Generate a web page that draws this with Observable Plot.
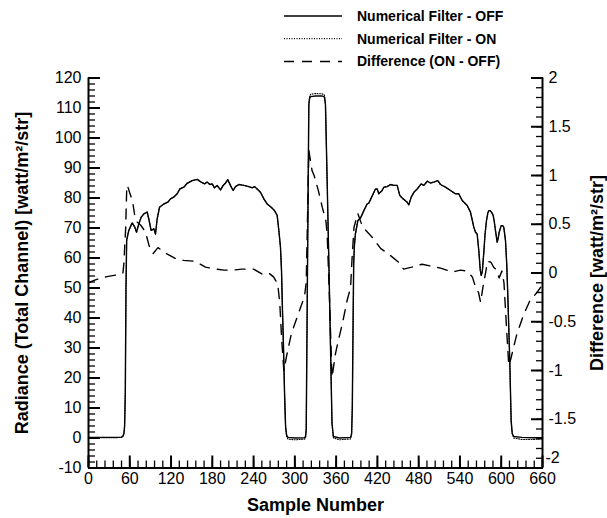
<!DOCTYPE html>
<html>
<head>
<meta charset="utf-8">
<script src="https://cdn.jsdelivr.net/npm/d3@7"></script>
<script src="https://cdn.jsdelivr.net/npm/@observablehq/plot@0.6"></script>
<style>
  body { margin: 0; background: #fff; font-family: "Liberation Sans", Arial, Helvetica, sans-serif; }
  #wrap { width: 607px; }
  #legend { display: block; }
</style>
</head>
<body>
<div id="wrap"><div id="legend"></div><div id="chart"></div></div>
<script>
// ---------- data ----------
const sample = [
  0, 20, 40, 48, 50, 51.5, 52.5, 53.5, 54.5, 55.5,
  58.6, 63.5, 67.3, 69.8, 73.2, 76.6, 80.4, 85.3, 87.7, 91,
  95, 97.4, 99.8, 103.2, 109.5, 115.3, 119.2, 124, 128.9, 132.7,
  138.5, 143.4, 150.7, 158, 163.8, 168.6, 172.5, 176.3, 179.8, 183.2,
  187, 191.9, 195.8, 199.2, 202.5, 206.4, 210.3, 213.7, 218.5, 225.8,
  233, 238, 241.3, 245.2, 250, 254.9, 259.8, 265.6, 270.4, 274.3,
  276.7, 279.1, 280.6, 282, 283.5, 285, 286.5, 288, 290, 300,
  314, 315.5, 316.5, 318.5, 320.3, 321.5, 323, 330, 340, 343,
  344.5, 347, 350, 352, 354, 356, 365, 381, 382.5, 383.5,
  384.5, 385.5, 386.5, 388, 391.6, 395.4, 400.3, 405, 407.5, 412,
  417.2, 419.7, 422, 426.9, 429.3, 434.2, 439, 443.8, 448.7, 452.6,
  457.5, 463.3, 465.7, 469.1, 473, 477.8, 483.6, 487.5, 492.4, 497.2,
  502, 507.8, 511.7, 519, 526.2, 533.5, 538.3, 543.2, 550.5, 555.3,
  558, 560.1, 562.6, 565, 567.4, 569.5, 570.9, 572.5, 574.7, 576.5,
  578.6, 580.5, 582, 584, 586, 588.3, 590, 591.6, 594.1, 595.5,
  597, 599.9, 602, 603.7, 606.2, 608, 609.5, 612.4, 614.4, 616,
  618.2, 630, 645, 660
];
const filterOff = [
  0.2, 0.2, 0.2, 0.3, 0.6, 1.5, 4, 15, 50, 66,
  69.2, 71.7, 70.3, 68.6, 71.4, 73.6, 74.7, 75.3, 73, 69.2,
  69.7, 68, 73, 76.9, 78, 78.6, 79.7, 80.3, 81.4, 83,
  83.6, 84.9, 85.8, 86.2, 85.3, 84.7, 85.3, 84.5, 84.7, 83.4,
  84.2, 82.7, 84.2, 85, 86.1, 84.2, 82.5, 83.8, 84.5, 84.2,
  83.8, 83.4, 83.8, 83, 81.9, 79.7, 78, 76.9, 75.8, 74.2,
  69.2, 63.6, 55.8, 42.5, 30, 15, 4, 1, 0.2, 0,
  0.1, 0.5, 3, 60, 111, 113.3, 113.8, 114, 114, 113.6,
  111, 85, 52, 28, 5, 0.5, 0, 0.2, 1.5, 10,
  35, 58, 64, 68, 72.5, 73.3, 75.8, 78, 78.3, 80.5,
  83, 83, 81.4, 82.5, 83.6, 83.8, 84.5, 84.2, 84.2, 80.8,
  79.7, 78.6, 77.7, 80.3, 81.9, 83, 84.7, 84.2, 85.6, 85,
  85.3, 85.8, 84.5, 83.6, 82.5, 81.4, 81.4, 79.2, 77.5, 75.3,
  72.5, 70.3, 68.6, 68, 62.5, 56, 54.2, 55.5, 62, 68,
  72.5, 75, 75.8, 75.8, 75.2, 74.2, 72, 69.2, 65.3, 66.5,
  68.6, 70.8, 70.8, 70.3, 65.8, 58, 48, 25.8, 5.8, 1.5,
  0.5, 0.2, 0.1, 0.1
];
const filterOn = [
  0.1, 0.1, 0.1, 0.2, 0.6, 1.5, 4, 15, 50, 66,
  69.2, 71.7, 70.3, 68.6, 71.4, 73.6, 74.7, 75.3, 73, 69.2,
  69.7, 68, 73, 76.9, 78, 78.6, 79.7, 80.3, 81.4, 83,
  83.6, 84.9, 85.8, 86.2, 85.3, 84.7, 85.3, 84.5, 84.7, 83.4,
  84.2, 82.7, 84.2, 85, 86.1, 84.2, 82.5, 83.8, 84.5, 84.2,
  83.8, 83.4, 83.8, 83, 81.9, 79.7, 78, 76.9, 75.8, 74.2,
  69.2, 63.6, 55.8, 42.5, 30, 15, 3.5, 0.4, -0.4, -0.6,
  -0.4, 0, 2.5, 60, 111.5, 114, 114.6, 114.8, 114.7, 114.3,
  111.5, 85, 52, 28, 4.5, 0, -0.6, -0.3, 1.2, 10,
  35, 58, 64, 68, 72.5, 73.3, 75.8, 78, 78.3, 80.5,
  83, 83, 81.4, 82.5, 83.6, 83.8, 84.5, 84.2, 84.2, 80.8,
  79.7, 78.6, 77.7, 80.3, 81.9, 83, 84.7, 84.2, 85.6, 85,
  85.3, 85.8, 84.5, 83.6, 82.5, 81.4, 81.4, 79.2, 77.5, 75.3,
  72.5, 70.3, 68.6, 68, 62.5, 56, 54.2, 55.5, 62, 68,
  72.5, 75, 75.8, 75.8, 75.2, 74.2, 72, 69.2, 65.3, 66.5,
  68.6, 70.8, 70.8, 70.3, 65.8, 58, 48, 25.8, 5.8, 1.5,
  0, -0.5, -0.5, -0.3
];
const diffSample = [
  0, 10, 25, 40, 50, 51.5, 52.5, 54, 55.5, 56.5,
  60, 64, 67, 71, 76, 83, 88, 94, 101, 113,
  126, 138, 155, 170, 185, 197, 211, 223, 240, 252,
  262, 269, 275, 278, 281, 284, 288, 295, 302, 308,
  314, 316.5, 318.5, 320.3, 325, 328, 334, 340, 345, 347,
  350, 354, 359, 362, 369, 376, 381, 383, 386, 391.6,
  397, 404, 412, 425, 437, 451, 458, 470, 485, 498,
  512, 529, 541, 550, 558, 563, 567, 570, 574, 577,
  580, 585, 589, 592, 597, 601, 604, 608, 611, 614,
  618, 623, 628, 633, 642, 652, 660
];
const difference = [
  -0.1, -0.07, -0.04, -0.02, 0, 0.1, 0.25, 0.45, 0.85, 0.9,
  0.82, 0.74, 0.6, 0.52, 0.49, 0.42, 0.28, 0.2, 0.26, 0.2,
  0.15, 0.13, 0.12, 0.06, 0.04, 0.03, 0.03, 0.04, 0.04, -0.01,
  0, -0.04, -0.11, -0.3, -0.7, -1.0, -0.85, -0.62, -0.48, -0.36,
  -0.24, -0.1, 0.6, 1.26, 1.05, 1.0, 0.85, 0.67, 0.54, 0.4,
  -0.2, -1.07, -0.83, -0.73, -0.52, -0.28, -0.15, 0.13, 0.47, 0.61,
  0.5, 0.43, 0.37, 0.25, 0.19, 0.11, 0.04, 0.06, 0.09, 0.07,
  0.05, 0.01, 0.03, 0.02, -0.04, -0.15, -0.2, -0.3, -0.12, -0.01,
  0.12, 0.11, 0.06, 0.04, -0.05, 0.02, -0.1, -0.6, -0.95, -0.88,
  -0.76, -0.62, -0.52, -0.42, -0.28, -0.2, -0.12
];

// tick labels
const sampleTicks = [0, 60, 120, 180, 240, 300, 360, 420, 480, 540, 600, 660];
const radianceTicks = [-10, 0, 10, 20, 30, 40, 50, 60, 70, 80, 90, 100, 110, 120];
const diffTicks = [-2, -1.5, -1, -0.5, 0, 0.5, 1, 1.5, 2];
const sampleMinorStep = 12, radianceMinorStep = 2, diffMinorStep = 0.1;

const legendLabels = ["Numerical Filter - OFF", "Numerical Filter - ON", "Difference (ON - OFF)"];
const xTitle = "Sample Number";
const yTitle = "Radiance (Total Channel) [watt/m\u00B2/str]";
const y2Title = "Difference [watt/m\u00B2/str]";

const xDomain = [0, 660];
const radDomain = [-10, 120];
const diffDomain = [-2, 2];

// ---------- mapping of the right axis onto the left scale ----------
const k = (radDomain[1] - radDomain[0]) / (diffDomain[1] - diffDomain[0]);
const toLeft = d => radDomain[0] + (d - diffDomain[0]) * k;
const fromLeft = v => diffDomain[0] + (v - radDomain[0]) / k;
const fmt = v => { const r = Math.round(v * 10) / 10; return String(r === 0 ? 0 : r); };

const offData = sample.map((s, i) => ({sample: s, value: filterOff[i]}));
const onData = sample.map((s, i) => ({sample: s, value: filterOn[i]}));
const diffData = diffSample.map((s, i) => ({sample: s, value: toLeft(difference[i])}));

const sampleMinor = d3.range(xDomain[0], xDomain[1] + 0.001, sampleMinorStep);
const radMinor = d3.range(radDomain[0], radDomain[1] + 0.001, radianceMinorStep);
const diffMinor = d3.range(diffDomain[0], diffDomain[1] + 0.0001, diffMinorStep).map(toLeft);
const diffLabelTicks = diffTicks.filter(d => d !== diffDomain[0]).map(toLeft);
const diffCornerTick = [toLeft(diffDomain[0])];

const FONT = '"Liberation Sans", Arial, Helvetica, sans-serif';

// ---------- legend (above the plot) ----------
const styles = [
  {dash: null, width: 1.5},
  {dash: "1,1.5", width: 1.2},
  {dash: "10,8", width: 1.5}
];
const leg = d3.select("#legend").append("svg")
  .attr("width", 607).attr("height", 70)
  .style("display", "block");
legendLabels.forEach((lab, i) => {
  const y = 16 + i * 22.7;
  leg.append("line")
    .attr("x1", 284).attr("x2", 342).attr("y1", y).attr("y2", y)
    .attr("stroke", "black").attr("stroke-width", styles[i].width)
    .attr("stroke-dasharray", styles[i].dash);
  leg.append("text")
    .attr("x", 357).attr("y", y).attr("dy", "0.35em")
    .attr("font-family", FONT).attr("font-weight", "bold").attr("font-size", 14)
    .text(lab);
});

// ---------- plot ----------
const chart = Plot.plot({
  width: 607,
  height: 448,
  marginLeft: 88,
  marginRight: 65,
  marginTop: 7.5,
  marginBottom: 50.5,
  style: {fontFamily: FONT, fontSize: "16px", background: "white", color: "black"},
  x: {domain: xDomain},
  y: {domain: radDomain},
  marks: [
    // curves
    Plot.line(diffData, {x: "sample", y: "value", stroke: "black", strokeWidth: 1.4, strokeDasharray: "10,8"}),
    Plot.line(onData, {x: "sample", y: "value", stroke: "black", strokeWidth: 1.1, strokeDasharray: "1,1.5"}),
    Plot.line(offData, {x: "sample", y: "value", stroke: "black", strokeWidth: 1.4}),
    // axis lines
    Plot.ruleX(xDomain, {stroke: "black", strokeWidth: 2}),
    Plot.ruleY([radDomain[0]], {stroke: "black", strokeWidth: 2}),
    // bottom axis: inward ticks
    Plot.axisX({ticks: sampleMinor, tickSize: -7, tickFormat: () => "", label: null, strokeWidth: 1.3}),
    Plot.axisX({ticks: sampleTicks, tickSize: -12, tickFormat: () => "", label: null, strokeWidth: 2}),
    Plot.axisX({ticks: sampleTicks, tickSize: 0, tickPadding: 5, tickFormat: d => String(d), label: null}),
    // left axis
    Plot.axisY({ticks: radMinor, tickSize: -7, tickFormat: () => "", label: null, strokeWidth: 1.3}),
    Plot.axisY({ticks: radianceTicks, tickSize: -12, tickFormat: () => "", label: null, strokeWidth: 2}),
    Plot.axisY({ticks: radianceTicks, tickSize: 0, tickPadding: 7, tickFormat: d => String(d), label: null}),
    // right axis (difference)
    Plot.axisY({anchor: "right", ticks: diffMinor, tickSize: -7, tickFormat: () => "", label: null, strokeWidth: 1.3}),
    Plot.axisY({anchor: "right", ticks: diffTicks.map(toLeft), tickSize: -12, tickFormat: () => "", label: null, strokeWidth: 2}),
    Plot.axisY({anchor: "right", ticks: diffLabelTicks, tickSize: 0, tickPadding: 6, tickFormat: v => fmt(fromLeft(v)), label: null}),
    Plot.axisY({anchor: "right", ticks: diffCornerTick, tickSize: 0, tickPadding: 3, dy: -10, tickFormat: v => fmt(fromLeft(v)), label: null}),
    // axis titles
    Plot.text([xTitle], {frameAnchor: "bottom", dy: 43, text: d => d, textAnchor: "middle", fontSize: 18, fontWeight: "bold"}),
    Plot.text([yTitle], {frameAnchor: "left", dx: -66, rotate: -90, text: d => d, textAnchor: "middle", fontSize: 18, fontWeight: "bold"}),
    Plot.text([y2Title], {frameAnchor: "right", dx: 55, rotate: -90, text: d => d, textAnchor: "middle", fontSize: 18, fontWeight: "bold"})
  ]
});
document.getElementById("chart").appendChild(chart);
</script>
</body>
</html>
